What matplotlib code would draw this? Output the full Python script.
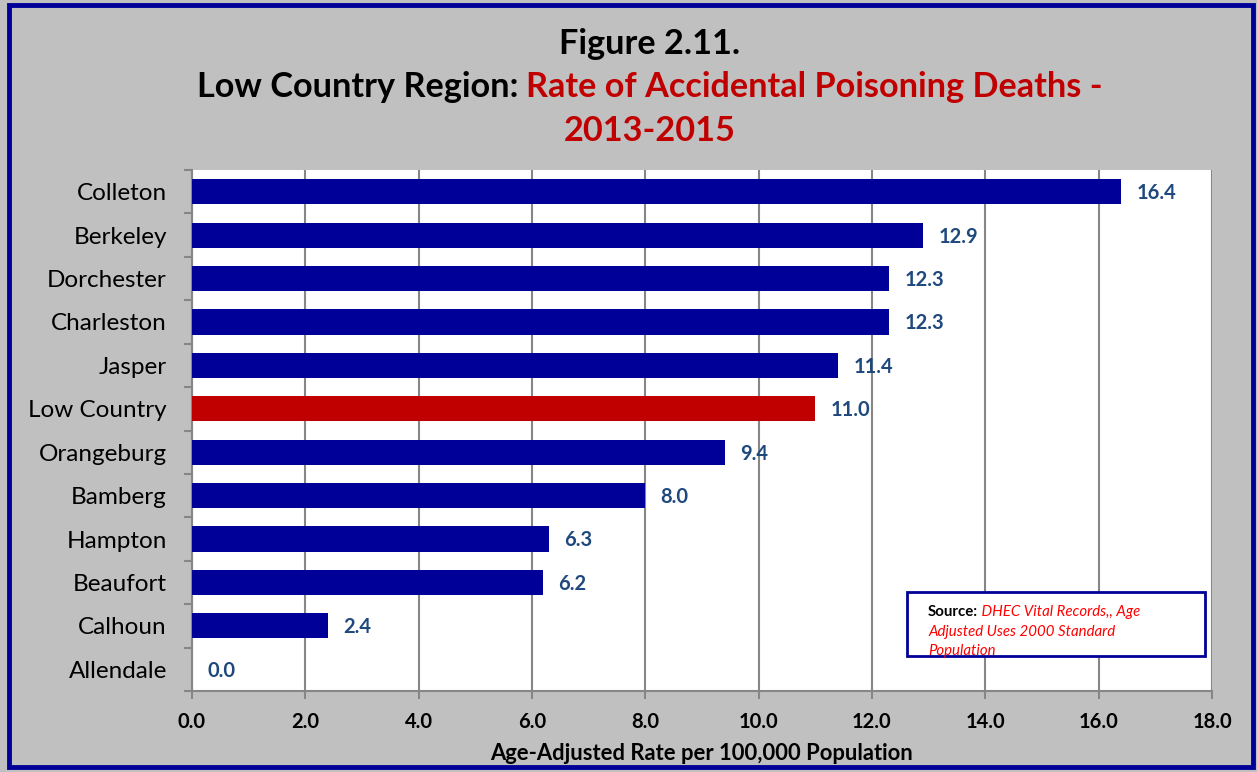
import matplotlib
matplotlib.use('Agg')
import matplotlib.pyplot as plt
import matplotlib.patches as patches
import numpy as np

counties = ['Colleton', 'Berkeley', 'Dorchester', 'Charleston', 'Jasper',
            'Low Country', 'Orangeburg', 'Bamberg', 'Hampton', 'Beaufort',
            'Calhoun', 'Allendale']
rates = [16.4, 12.9, 12.3, 12.3, 11.4, 11.0, 9.4, 8.0, 6.3, 6.2, 2.4, 0.0]
highlight = 'Low Country'
x_ticks = [0.0, 2.0, 4.0, 6.0, 8.0, 10.0, 12.0, 14.0, 16.0, 18.0]

BLUE = '#000099'
RED = '#C00000'
LABEL = '#1F497D'
GRAY_BG = '#C0C0C0'

plt.rcParams['font.family'] = ['Lato', 'DejaVu Sans']

fig = plt.figure(figsize=(12.57, 7.72), dpi=100)
fig.patch.set_facecolor(GRAY_BG)
ax = fig.add_axes([0.1527, 0.1049, 0.8115, 0.6749])
ax.set_facecolor('white')

y = np.arange(len(counties))
colors = [RED if c == highlight else BLUE for c in counties]
ax.barh(y, rates, height=0.58, color=colors, zorder=3)
for yi, v in zip(y, rates):
    ax.annotate('{:.1f}'.format(v), (v, yi), xytext=(11, -1), textcoords='offset points',
                ha='left', va='center', fontsize=14.5, fontweight='bold', color=LABEL, zorder=4)

ax.set_ylim(len(counties) - 0.5, -0.5)
ax.set_xlim(0, 18)
ax.set_xticks(x_ticks)
ax.set_xticklabels(['{:.1f}'.format(t) for t in x_ticks], fontsize=14.5, fontweight='bold')
ax.set_yticks(y)
ax.set_yticklabels(counties, fontsize=17.5)
ax.set_yticks(np.arange(len(counties) + 1) - 0.5, minor=True)
ax.tick_params(axis='y', which='major', length=0, pad=18)
ax.tick_params(axis='y', which='minor', length=6, color='#868686', width=1.5)
ax.tick_params(axis='x', length=6, color='#868686', width=1.5, pad=9)
ax.xaxis.grid(True, color='#868686', linewidth=1.5, zorder=0)
for s in ['top', 'right']:
    ax.spines[s].set_visible(False)
for s in ['left', 'bottom']:
    ax.spines[s].set_color('#868686')
    ax.spines[s].set_linewidth(1.5)
ax.set_xlabel('Age-Adjusted Rate per 100,000 Population', fontsize=15.8,
              fontweight='bold', labelpad=8)

# title
TITLE_SIZE = 24.7
fig.text(0.517, 0.943, 'Figure 2.11.', ha='center', va='center', fontsize=TITLE_SIZE,
         fontweight='bold', color='black')
fig.canvas.draw()
renderer = fig.canvas.get_renderer()
part1 = 'Low Country Region: '
part2 = 'Rate of Accidental Poisoning Deaths -'
t1 = fig.text(0, 0, part1, fontsize=TITLE_SIZE, fontweight='bold')
t2 = fig.text(0, 0, part2, fontsize=TITLE_SIZE, fontweight='bold')
w1 = t1.get_window_extent(renderer).width / fig.bbox.width
w2 = t2.get_window_extent(renderer).width / fig.bbox.width
x0 = 0.517 - (w1 + w2) / 2
t1.set_position((x0, 0.887))
t1.set_va('center')
t2.set_position((x0 + w1, 0.887))
t2.set_va('center')
t2.set_color(RED)
fig.text(0.517, 0.830, '2013-2015', ha='center', va='center', fontsize=TITLE_SIZE,
         fontweight='bold', color=RED)

# source box
SRC_SIZE = 10.8
box = patches.Rectangle((907 / 1257, 1 - 656 / 772), 298 / 1257, 64 / 772,
                        transform=fig.transFigure, facecolor='white',
                        edgecolor=BLUE, linewidth=2, zorder=5)
fig.patches.append(box)
ts = fig.text(928 / 1257, 1 - 612 / 772, 'Source:', fontsize=SRC_SIZE, fontweight='bold',
              color='black', va='center', zorder=6)
ws = ts.get_window_extent(renderer).width / fig.bbox.width
fig.text(928 / 1257 + ws, 1 - 612 / 772, ' DHEC Vital Records,, Age', fontsize=SRC_SIZE,
         style='italic', color='#FF0000', va='center', zorder=6)
fig.text(928 / 1257, 1 - 632 / 772, 'Adjusted Uses 2000 Standard', fontsize=SRC_SIZE,
         style='italic', color='#FF0000', va='center', zorder=6)
fig.text(928 / 1257, 1 - 651 / 772, 'Population', fontsize=SRC_SIZE,
         style='italic', color='#FF0000', va='center', zorder=6)

# outer border
border = patches.Rectangle((9 / 1257, 5 / 772), 1244 / 1257, 762 / 772,
                           transform=fig.transFigure, fill=False,
                           edgecolor=BLUE, linewidth=3.5, zorder=10)
fig.patches.append(border)

fig.savefig('out.png', dpi=100, facecolor=fig.get_facecolor())
